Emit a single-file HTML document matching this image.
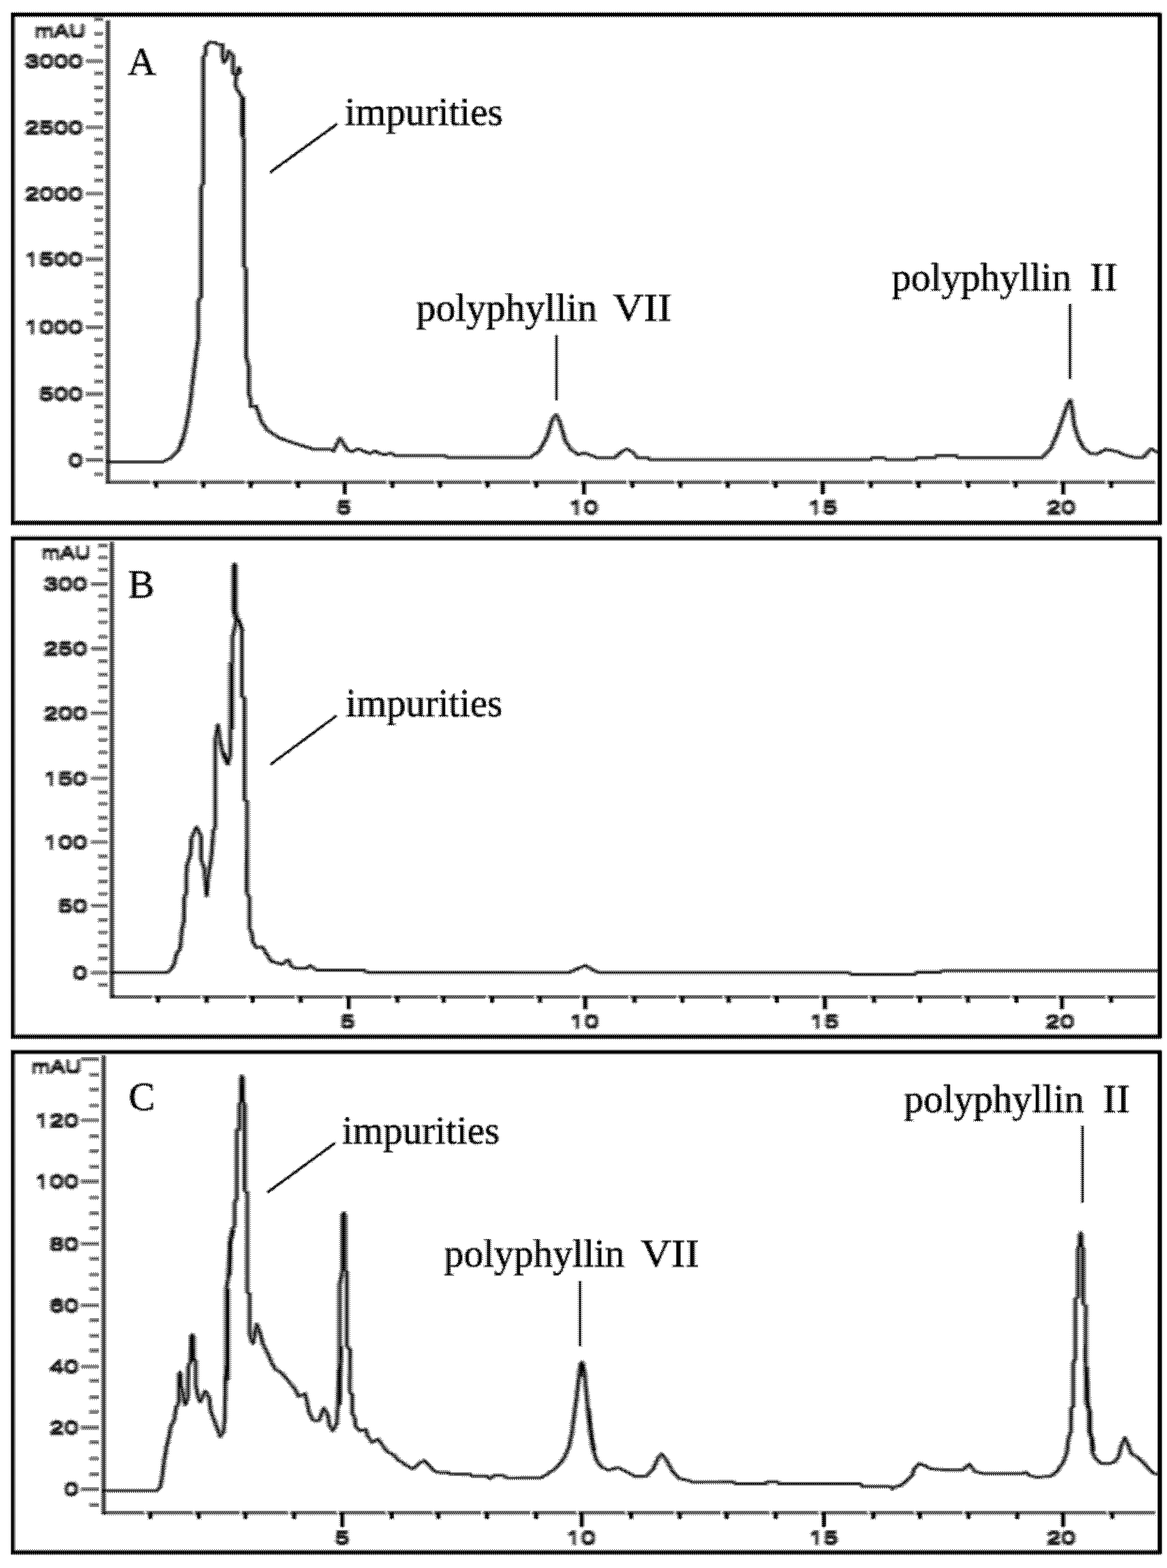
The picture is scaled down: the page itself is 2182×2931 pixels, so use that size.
<!DOCTYPE html>
<html lang="en"><head><meta charset="utf-8"><title>HPLC chromatograms A, B, C</title>
<style>html,body{margin:0;padding:0;background:#fff}svg{display:block}svg{filter:contrast(400)}.sans{font-family:"Liberation Sans",Arial,Helvetica,sans-serif;fill:#000}.serif{font-family:"Liberation Serif","Times New Roman",Times,serif;fill:#000}</style></head><body>
<svg width="2182" height="2931" viewBox="0 0 2182 2931">
<defs><filter id="b" x="0" y="0" width="2182" height="2931" filterUnits="userSpaceOnUse" color-interpolation-filters="sRGB"><feGaussianBlur stdDeviation="1.5 1.3"/></filter><filter id="bt" x="0" y="0" width="2182" height="2931" filterUnits="userSpaceOnUse" color-interpolation-filters="sRGB"><feMorphology operator="dilate" radius="0 2"/><feGaussianBlur stdDeviation="2.0 1.8"/></filter><filter id="bx" x="0" y="0" width="2182" height="2931" filterUnits="userSpaceOnUse" color-interpolation-filters="sRGB"><feGaussianBlur stdDeviation="1.6 1.3"/></filter><filter id="b2" x="0" y="0" width="2182" height="2931" filterUnits="userSpaceOnUse" color-interpolation-filters="sRGB"><feGaussianBlur stdDeviation="0.8"/></filter></defs>
<rect width="2182" height="2931" fill="#fff"/>
<defs><pattern id="bayer" width="4" height="4" patternUnits="userSpaceOnUse" shape-rendering="crispEdges"><rect x="0" y="0" width="1" height="1" fill="rgb(8,8,8)"/><rect x="1" y="0" width="1" height="1" fill="rgb(135,135,135)"/><rect x="2" y="0" width="1" height="1" fill="rgb(40,40,40)"/><rect x="3" y="0" width="1" height="1" fill="rgb(167,167,167)"/><rect x="0" y="1" width="1" height="1" fill="rgb(199,199,199)"/><rect x="1" y="1" width="1" height="1" fill="rgb(72,72,72)"/><rect x="2" y="1" width="1" height="1" fill="rgb(231,231,231)"/><rect x="3" y="1" width="1" height="1" fill="rgb(104,104,104)"/><rect x="0" y="2" width="1" height="1" fill="rgb(56,56,56)"/><rect x="1" y="2" width="1" height="1" fill="rgb(183,183,183)"/><rect x="2" y="2" width="1" height="1" fill="rgb(24,24,24)"/><rect x="3" y="2" width="1" height="1" fill="rgb(151,151,151)"/><rect x="0" y="3" width="1" height="1" fill="rgb(247,247,247)"/><rect x="1" y="3" width="1" height="1" fill="rgb(120,120,120)"/><rect x="2" y="3" width="1" height="1" fill="rgb(215,215,215)"/><rect x="3" y="3" width="1" height="1" fill="rgb(88,88,88)"/></pattern></defs>
<g fill="none" stroke="#000" stroke-width="7.4" filter="url(#b2)">
<rect x="23.9" y="27.5" width="2144.4" height="949.9"/>
<rect x="23.9" y="1006.3" width="2144.4" height="931.4"/>
<rect x="23.9" y="1966.5" width="2144.4" height="935.1"/>
</g>
<g filter="url(#b)"><g transform="scale(1.4 1)">
<g fill="none" stroke="#000" stroke-linecap="butt">
<path d="M144.07 38V904.7" stroke-width="5.6" stroke-opacity="0.74"/>
<path d="M144.07 901.5H1542.86" stroke-width="6.4" stroke-opacity="0.64"/>
</g>
<g fill="none" stroke="#000" stroke-linejoin="round" stroke-linecap="round">
<path d="M144.29 863.3 217.14 863.3 229.29 855 237.86 843 243.14 826 247.5 804 250.93 780 254.29 751 257 717 261.36 668 264.79 632 265 563 268.57 555 268.57 350 271.43 343 271.43 105.4 274.71 101.6 274.71 86.5 277.43 81.8 280.14 78.5 286.86 79.4 290.93 82.7 297 83.2 297 104.5 299.07 116.8 303.79 107.3 305.14 95 311.21 103.5 311.21 135.7 315.29 141.4 319.29 126.2 320.71 135.7 315.29 141.4 314.57 159.4 315.93 165 320.71 176.4 323 181 323 252 324.14 183 324.14 254 325.57 260 325.57 497 328.57 503 328.79 668 332.14 683 332.14 736 334.86 746 334.86 760 341.79 759 346.07 775 348.57 787 357.14 804 372.86 818.5 391.93 828 409.29 835.5 419.57 840 440 840 445.43 843 454.07 818.6 464.29 841.6 469.64 844 478.29 839 493.86 847.7 500.71 843 507.71 848 514.57 850 521.43 846.5 528.43 852 594.14 852 597.64 855 708.21 855 720.29 842.9 730.71 816 737.57 784.7 742.86 775 747.86 789.6 754.93 823.5 761.79 839 772.14 850 780.71 846.5 789.29 851 798.14 856 820.71 856 829.29 845 837.14 839 844.86 845 851.71 856 865.57 856 867.14 859 1162.86 859 1164.71 855.4 1180 855.4 1183.57 859 1222.86 859 1225 855.4 1249.29 855.4 1251.43 851.4 1276.43 851.4 1279.29 855.4 1392.14 855.4 1402.57 840.3 1411.21 813.7 1419.86 779.8 1425.93 755.6 1429.29 748 1432 765 1434.57 794 1440.64 821 1447.57 838 1456.21 847.6 1464.86 848.8 1476.93 840 1492.5 844 1501.14 850 1515 855 1527.14 855 1537.5 839 1546.43 846M324.71 183 324.71 252M241.43 829 243.93 821M1428.21 751 1430.36 751" stroke-width="7.0" stroke-opacity="0.5"/>
<path d="M144.29 863.3 217.14 863.3 229.29 855 237.86 843 243.14 826 247.5 804 250.93 780 254.29 751 257 717 261.36 668 264.79 632 265 563 268.57 555 268.57 350 271.43 343 271.43 105.4 274.71 101.6 274.71 86.5 277.43 81.8 280.14 78.5 286.86 79.4 290.93 82.7 297 83.2 297 104.5 299.07 116.8 303.79 107.3 305.14 95 311.21 103.5 311.21 135.7 315.29 141.4 319.29 126.2 320.71 135.7 315.29 141.4 314.57 159.4 315.93 165 320.71 176.4 323 181 323 252 324.14 183 324.14 254 325.57 260 325.57 497 328.57 503 328.79 668 332.14 683 332.14 736 334.86 746 334.86 760 341.79 759 346.07 775 348.57 787 357.14 804 372.86 818.5 391.93 828 409.29 835.5 419.57 840 440 840 445.43 843 454.07 818.6 464.29 841.6 469.64 844 478.29 839 493.86 847.7 500.71 843 507.71 848 514.57 850 521.43 846.5 528.43 852 594.14 852 597.64 855 708.21 855 720.29 842.9 730.71 816 737.57 784.7 742.86 775 747.86 789.6 754.93 823.5 761.79 839 772.14 850 780.71 846.5 789.29 851 798.14 856 820.71 856 829.29 845 837.14 839 844.86 845 851.71 856 865.57 856 867.14 859 1162.86 859 1164.71 855.4 1180 855.4 1183.57 859 1222.86 859 1225 855.4 1249.29 855.4 1251.43 851.4 1276.43 851.4 1279.29 855.4 1392.14 855.4 1402.57 840.3 1411.21 813.7 1419.86 779.8 1425.93 755.6 1429.29 748 1432 765 1434.57 794 1440.64 821 1447.57 838 1456.21 847.6 1464.86 848.8 1476.93 840 1492.5 844 1501.14 850 1515 855 1527.14 855 1537.5 839 1546.43 846" stroke-width="2.2"/>
<path d="M324.71 183 324.71 252M241.43 829 243.93 821M1428.21 751 1430.36 751" stroke-width="3.19"/>
</g>
<path d="M200.29 901.5H203.29M263.43 901.5H266.43M326.57 901.5H329.57M389.71 901.5H392.71M515.79 901.5H518.79M579.71 901.5H582.71M642.93 901.5H645.93M708.29 901.5H711.29M772.57 901.5H775.57M836.5 901.5H839.5M900.43 901.5H903.43M963.64 901.5H966.64M1027.57 901.5H1030.57M1091.5 901.5H1094.5M1154.86 901.5H1157.86M1218.5 901.5H1221.5M1285.07 901.5H1288.07M1348.43 901.5H1351.43M1412.57 901.5H1415.57M1475.71 901.5H1478.71" fill="none" stroke="#fff" stroke-opacity="0.85" stroke-width="10.4"/>
<path d="M125.71 36.3H137.86M125.71 63.1H137.86M125.71 86.8H137.86M114.5 114.2H137.86M125.71 137.1H137.86M125.71 163.5H137.86M125.71 187.2H137.86M125.71 211.2H137.86M114.5 237.9H137.86M125.71 260.9H137.86M125.71 286.2H137.86M125.71 311.6H137.86M125.71 336.9H137.86M114.5 361.9H137.86M125.71 387.6H137.86M125.71 411H137.86M125.71 436.3H137.86M125.71 461.1H137.86M114.5 484.4H137.86M125.71 512.2H137.86M125.71 535.6H137.86M125.71 562.9H137.86M125.71 586.3H137.86M114.5 611.6H137.86M125.71 634.9H137.86M125.71 663.3H137.86M125.71 685.7H137.86M125.71 713H137.86M114.5 736.4H137.86M125.71 759.7H137.86M125.71 787.1H137.86M125.71 810.4H137.86M125.71 836.8H137.86M114.5 859.7H137.86M125.71 886.5H137.86" fill="none" stroke="#000" stroke-width="7.0" stroke-opacity="0.55"/>
<g fill="none" stroke="#000" stroke-linecap="butt">
<path d="M149.43 1013V1866.2" stroke-width="5.6" stroke-opacity="0.74"/>
<path d="M149.43 1863H1542.86" stroke-width="6.4" stroke-opacity="0.64"/>
</g>
<g fill="none" stroke="#000" stroke-linejoin="round" stroke-linecap="round">
<path d="M149.29 1818 222.43 1818 227.57 1813.7 232.79 1801.6 235.36 1784.6 240.57 1772.5 243.14 1736.2 245.71 1721.7 246.07 1678 248.93 1668.4 248.93 1640 249.5 1618.5 254.64 1596.7 255.5 1567.6 262.43 1545.8 268.5 1562.8 268.5 1606.3 272.86 1623.3 276 1674.5 277.86 1640 282.36 1601.5 284.93 1553 287.5 1545.8 287.5 1386 291 1354.5 293.57 1381 297.86 1410 303.93 1428.4 307.43 1412.6 308.29 1340 308.29 1239 310.86 1238 310.86 1190 313.57 1172 315.36 1160 311.86 1142 311.86 1058 313.21 1054 314.57 1058 314.57 1142 317.5 1159 323 1176 323 1302 326.43 1305 326.43 1495 329.93 1498 329.64 1668.4 333.07 1678 333.07 1733.8 336.57 1746 337.43 1760.4 342.64 1771.3 350.43 1770 355.57 1782.2 362.5 1796.8 376.36 1802.8 385 1794.3 388.43 1804 393.57 1810 409.21 1810 414.29 1805 423.07 1813.7 486.93 1813.7 490.36 1817.9 760 1818 770.43 1811.3 781.71 1804.8 792.86 1813.7 799.86 1818 1133.57 1818 1137.14 1821.7 1221.79 1821.7 1225 1817.4 1255.71 1817.4 1258.57 1814.5 1546.43 1814.5M309.71 1242 309.71 1362M318.57 1158 323.57 1178M299.29 1409 305 1427M274.71 1650 277.29 1650 276 1672M261.43 1549 263.57 1549M313.21 1058 313.21 1142" stroke-width="7.0" stroke-opacity="0.5"/>
<path d="M149.29 1818 222.43 1818 227.57 1813.7 232.79 1801.6 235.36 1784.6 240.57 1772.5 243.14 1736.2 245.71 1721.7 246.07 1678 248.93 1668.4 248.93 1640 249.5 1618.5 254.64 1596.7 255.5 1567.6 262.43 1545.8 268.5 1562.8 268.5 1606.3 272.86 1623.3 276 1674.5 277.86 1640 282.36 1601.5 284.93 1553 287.5 1545.8 287.5 1386 291 1354.5 293.57 1381 297.86 1410 303.93 1428.4 307.43 1412.6 308.29 1340 308.29 1239 310.86 1238 310.86 1190 313.57 1172 315.36 1160 311.86 1142 311.86 1058 313.21 1054 314.57 1058 314.57 1142 317.5 1159 323 1176 323 1302 326.43 1305 326.43 1495 329.93 1498 329.64 1668.4 333.07 1678 333.07 1733.8 336.57 1746 337.43 1760.4 342.64 1771.3 350.43 1770 355.57 1782.2 362.5 1796.8 376.36 1802.8 385 1794.3 388.43 1804 393.57 1810 409.21 1810 414.29 1805 423.07 1813.7 486.93 1813.7 490.36 1817.9 760 1818 770.43 1811.3 781.71 1804.8 792.86 1813.7 799.86 1818 1133.57 1818 1137.14 1821.7 1221.79 1821.7 1225 1817.4 1255.71 1817.4 1258.57 1814.5 1546.43 1814.5" stroke-width="2.2"/>
<path d="M309.71 1242 309.71 1362M318.57 1158 323.57 1178M299.29 1409 305 1427M274.71 1650 277.29 1650 276 1672M261.43 1549 263.57 1549M313.21 1058 313.21 1142" stroke-width="3.19"/>
</g>
<path d="M202.86 1863H205.86M267.71 1863H270.71M329.14 1863H332.14M393.14 1863H396.14M458.21 1863H461.21M522.71 1863H525.71M584.14 1863H587.14M649 1863H652M712.86 1863H715.86M774.29 1863H777.29M839.14 1863H842.14M903.14 1863H906.14M964.71 1863H967.71M1029.29 1863H1032.29M1094.14 1863H1097.14M1159 1863H1162M1220.43 1863H1223.43M1284.43 1863H1287.43M1349.29 1863H1352.29M1410.71 1863H1413.71M1475.57 1863H1478.57" fill="none" stroke="#fff" stroke-opacity="0.85" stroke-width="10.4"/>
<path d="M131.07 1019.8H143.57M131.07 1042.1H143.57M131.07 1065H143.57M121.79 1091.4H143.57M131.07 1114.1H143.57M131.07 1140.1H143.57M131.07 1162.8H143.57M131.07 1190.2H143.57M121.79 1212.5H143.57M131.07 1235.8H143.57M131.07 1261.1H143.57M131.07 1283.5H143.57M131.07 1310.8H143.57M121.79 1333.2H143.57M131.07 1360.5H143.57M131.07 1382.9H143.57M131.07 1406.2H143.57M131.07 1432.5H143.57M121.79 1454.7H143.57M131.07 1481.1H143.57M131.07 1502.4H143.57M131.07 1528.7H143.57M131.07 1551H143.57M121.79 1574H143.57M131.07 1600.7H143.57M131.07 1623.1H143.57M131.07 1647.4H143.57M131.07 1670.7H143.57M121.79 1693H143.57M131.07 1719.4H143.57M131.07 1742.7H143.57M131.07 1768.1H143.57M131.07 1791.4H143.57M121.79 1818.2H143.57M131.07 1841.1H143.57" fill="none" stroke="#000" stroke-width="7.0" stroke-opacity="0.55"/>
<g fill="none" stroke="#000" stroke-linecap="butt">
<path d="M138.36 1973V2831.2" stroke-width="5.6" stroke-opacity="0.74"/>
<path d="M138.36 2828H1542.86" stroke-width="6.4" stroke-opacity="0.64"/>
</g>
<g fill="none" stroke="#000" stroke-linejoin="round" stroke-linecap="round">
<path d="M138.57 2786.5 209.43 2786.5 213.79 2779.7 216.36 2762.8 218.93 2733.7 222.43 2704.6 225.86 2685.3 227.57 2668.3 232.79 2653.8 235.36 2629.6 238.86 2622.3 239.14 2570 240.21 2565.4 241.29 2570 241.57 2590 243.14 2597 247.5 2626 250.93 2612.6 251.43 2554.5 254.57 2545 255.21 2499 256.64 2494.6 258.14 2499 258.57 2540 261.36 2544.8 261.36 2588.4 264.79 2612.6 267.36 2620 274.29 2600.5 279.5 2612.6 281.21 2636.9 286.43 2656.2 291.57 2675.6 294.21 2685.3 298.5 2675.6 300.21 2653.8 301.07 2576.3 302.5 2550 302.5 2407.4 305.07 2385.6 306.79 2322.6 310.29 2298.4 313.71 2288.7 313.71 2246 316.36 2241.5 316.36 2113 319.79 2110.7 319.79 2064 321.71 2060 322 2016 323.21 2011.5 324.43 2016 324.71 2060 326.71 2064.7 326.71 2224.5 330.14 2229.4 330.14 2414.6 333.57 2419.5 333.57 2492 335.36 2504 337.86 2511.5 343.14 2475 347.43 2492 350.93 2511.5 357.86 2530.9 363 2547.8 367.71 2559.4 376.36 2566.6 385 2581.2 393.64 2595.7 398.86 2610.2 407.5 2605.4 410.07 2620 412.64 2639.3 417.86 2653.8 423.07 2656.2 426.43 2653.8 432.43 2632 437.64 2644 440.21 2666 444.57 2674.4 449.71 2661 451.43 2624.7 452.36 2564.2 453.79 2550 453.79 2400 457.29 2376 457.29 2272 459 2267 460.71 2272 460.71 2374 463.36 2378 463.36 2516 467.64 2523.6 467 2600.5 470.5 2607.8 470.5 2641.7 473.93 2651.4 474.79 2666 480 2674.4 488.57 2672 491.21 2685.3 497.29 2696.2 505 2690 511.14 2702.2 518.07 2714.3 526.71 2720.4 531.86 2728.9 542.29 2738.5 550.93 2745.8 559.57 2736 566.43 2730 572.5 2738.5 578.57 2748.2 585.5 2752.6 597.57 2752.6 601.07 2755 627 2755.5 630.43 2759 649.5 2759 654.64 2764 659.86 2758 672 2758 677.14 2762.8 722.86 2762.3 732.43 2754.3 742.79 2743.4 753.14 2726.4 760 2704.6 763.57 2680.4 767 2644 770.43 2607.8 773.93 2564.2 775.43 2550 777 2546 778.57 2550 780.5 2564.2 783.43 2607.8 786 2649 788.57 2680.4 792.14 2709.5 796.43 2728.9 803.29 2742.2 812 2748.2 825.71 2743.4 836.21 2750.7 848.29 2759.9 863.86 2759 872.5 2745.8 878.57 2726.4 883.71 2718 889.79 2728.9 898.43 2750.7 907.14 2764 920.93 2767.6 924.29 2770.5 979.64 2770 982.14 2773.7 1022.86 2773.7 1024.57 2770 1038.43 2770 1041 2773.7 1149.14 2773.7 1151.71 2778.5 1188.93 2778.5 1192 2783.3 1195.71 2778.5 1202.71 2777.3 1209.64 2768.8 1218.29 2758 1220.86 2745.8 1226.93 2736 1235.57 2739.8 1242.86 2745.8 1272.86 2748.2 1286.71 2747 1294.5 2737.3 1302.29 2750.7 1312.64 2754.3 1366.29 2754.3 1369.71 2751.9 1374.93 2758 1385.29 2761.5 1404.29 2759 1412.86 2748.2 1419.86 2733.7 1425 2714.3 1426.79 2690 1430.21 2675.6 1430.57 2634.4 1433.71 2627 1433.71 2547.3 1436.29 2538 1436.29 2429 1439.79 2424.3 1439.79 2334 1441.86 2328 1442.14 2309 1443.21 2304.5 1444.29 2309 1444.57 2328 1446.64 2334 1446.64 2436.4 1450.14 2441.3 1449.64 2540 1451 2622.3 1454.43 2636.9 1454.43 2675.6 1457.86 2690 1458.79 2714.3 1463.07 2726.4 1470 2735 1480.43 2736 1489.07 2732.5 1494.29 2721.6 1497.71 2702.2 1502.5 2687.7 1507.14 2702.2 1510.71 2716.8 1520.14 2725.2 1527.14 2733.7 1534 2745.8 1540.93 2754.3 1546.43 2755.5M304 2410 304 2578M311.43 2300 308 2322 306.43 2384M455.29 2518 453.71 2625M786.07 2634 790 2684 793.57 2710M1451.71 2556 1452.57 2622 1455.71 2640 1455.71 2676 1459.14 2692 1460 2712M459 2271 459 2374M256.64 2498 256.64 2544M323.21 2015 323.21 2059M240.21 2569 240.21 2592M1443.21 2308 1443.21 2329M777 2550 777 2572" stroke-width="7.0" stroke-opacity="0.5"/>
<path d="M138.57 2786.5 209.43 2786.5 213.79 2779.7 216.36 2762.8 218.93 2733.7 222.43 2704.6 225.86 2685.3 227.57 2668.3 232.79 2653.8 235.36 2629.6 238.86 2622.3 239.14 2570 240.21 2565.4 241.29 2570 241.57 2590 243.14 2597 247.5 2626 250.93 2612.6 251.43 2554.5 254.57 2545 255.21 2499 256.64 2494.6 258.14 2499 258.57 2540 261.36 2544.8 261.36 2588.4 264.79 2612.6 267.36 2620 274.29 2600.5 279.5 2612.6 281.21 2636.9 286.43 2656.2 291.57 2675.6 294.21 2685.3 298.5 2675.6 300.21 2653.8 301.07 2576.3 302.5 2550 302.5 2407.4 305.07 2385.6 306.79 2322.6 310.29 2298.4 313.71 2288.7 313.71 2246 316.36 2241.5 316.36 2113 319.79 2110.7 319.79 2064 321.71 2060 322 2016 323.21 2011.5 324.43 2016 324.71 2060 326.71 2064.7 326.71 2224.5 330.14 2229.4 330.14 2414.6 333.57 2419.5 333.57 2492 335.36 2504 337.86 2511.5 343.14 2475 347.43 2492 350.93 2511.5 357.86 2530.9 363 2547.8 367.71 2559.4 376.36 2566.6 385 2581.2 393.64 2595.7 398.86 2610.2 407.5 2605.4 410.07 2620 412.64 2639.3 417.86 2653.8 423.07 2656.2 426.43 2653.8 432.43 2632 437.64 2644 440.21 2666 444.57 2674.4 449.71 2661 451.43 2624.7 452.36 2564.2 453.79 2550 453.79 2400 457.29 2376 457.29 2272 459 2267 460.71 2272 460.71 2374 463.36 2378 463.36 2516 467.64 2523.6 467 2600.5 470.5 2607.8 470.5 2641.7 473.93 2651.4 474.79 2666 480 2674.4 488.57 2672 491.21 2685.3 497.29 2696.2 505 2690 511.14 2702.2 518.07 2714.3 526.71 2720.4 531.86 2728.9 542.29 2738.5 550.93 2745.8 559.57 2736 566.43 2730 572.5 2738.5 578.57 2748.2 585.5 2752.6 597.57 2752.6 601.07 2755 627 2755.5 630.43 2759 649.5 2759 654.64 2764 659.86 2758 672 2758 677.14 2762.8 722.86 2762.3 732.43 2754.3 742.79 2743.4 753.14 2726.4 760 2704.6 763.57 2680.4 767 2644 770.43 2607.8 773.93 2564.2 775.43 2550 777 2546 778.57 2550 780.5 2564.2 783.43 2607.8 786 2649 788.57 2680.4 792.14 2709.5 796.43 2728.9 803.29 2742.2 812 2748.2 825.71 2743.4 836.21 2750.7 848.29 2759.9 863.86 2759 872.5 2745.8 878.57 2726.4 883.71 2718 889.79 2728.9 898.43 2750.7 907.14 2764 920.93 2767.6 924.29 2770.5 979.64 2770 982.14 2773.7 1022.86 2773.7 1024.57 2770 1038.43 2770 1041 2773.7 1149.14 2773.7 1151.71 2778.5 1188.93 2778.5 1192 2783.3 1195.71 2778.5 1202.71 2777.3 1209.64 2768.8 1218.29 2758 1220.86 2745.8 1226.93 2736 1235.57 2739.8 1242.86 2745.8 1272.86 2748.2 1286.71 2747 1294.5 2737.3 1302.29 2750.7 1312.64 2754.3 1366.29 2754.3 1369.71 2751.9 1374.93 2758 1385.29 2761.5 1404.29 2759 1412.86 2748.2 1419.86 2733.7 1425 2714.3 1426.79 2690 1430.21 2675.6 1430.57 2634.4 1433.71 2627 1433.71 2547.3 1436.29 2538 1436.29 2429 1439.79 2424.3 1439.79 2334 1441.86 2328 1442.14 2309 1443.21 2304.5 1444.29 2309 1444.57 2328 1446.64 2334 1446.64 2436.4 1450.14 2441.3 1449.64 2540 1451 2622.3 1454.43 2636.9 1454.43 2675.6 1457.86 2690 1458.79 2714.3 1463.07 2726.4 1470 2735 1480.43 2736 1489.07 2732.5 1494.29 2721.6 1497.71 2702.2 1502.5 2687.7 1507.14 2702.2 1510.71 2716.8 1520.14 2725.2 1527.14 2733.7 1534 2745.8 1540.93 2754.3 1546.43 2755.5" stroke-width="2.2"/>
<path d="M304 2410 304 2578M311.43 2300 308 2322 306.43 2384M455.29 2518 453.71 2625M786.07 2634 790 2684 793.57 2710M1451.71 2556 1452.57 2622 1455.71 2640 1455.71 2676 1459.14 2692 1460 2712M459 2271 459 2374M256.64 2498 256.64 2544M323.21 2015 323.21 2059M240.21 2569 240.21 2592M1443.21 2308 1443.21 2329M777 2550 777 2572" stroke-width="3.19"/>
</g>
<path d="M192.5 2828H195.5M257.36 2828H260.36M319.64 2828H322.64M384.5 2828H387.5M449.71 2828H452.71M514.93 2828H517.93M577.21 2828H580.21M642.07 2828H645.07M707.71 2828H710.71M769.57 2828H772.57M834.71 2828H837.71M899.71 2828H902.71M962.21 2828H965.21M1027.57 2828H1030.57M1092.93 2828H1095.93M1158.14 2828H1161.14M1220.43 2828H1223.43M1285.29 2828H1288.29M1477.29 2828H1480.29" fill="none" stroke="#fff" stroke-opacity="0.85" stroke-width="10.4"/>
<path d="M108.07 1979.9H132.14M119.29 2009.3H132.14M119.29 2036.7H132.14M119.29 2066.5H132.14M108.07 2094.1H132.14M119.29 2123.9H132.14M119.29 2151.3H132.14M119.29 2181.3H132.14M108.07 2208.5H132.14M119.29 2238.5H132.14M119.29 2267.9H132.14M119.29 2295.3H132.14M108.07 2325.3H132.14M119.29 2353.1H132.14M119.29 2382.5H132.14M119.29 2409.8H132.14M108.07 2440.2H132.14M119.29 2467.6H132.14M119.29 2497H132.14M119.29 2524.4H132.14M108.07 2554.4H132.14M119.29 2581.2H132.14M119.29 2611.6H132.14M119.29 2639H132.14M108.07 2668.4H132.14M119.29 2695.8H132.14M119.29 2726.2H132.14M119.29 2755.6H132.14M108.07 2783.6H132.14M119.29 2813.4H132.14" fill="none" stroke="#000" stroke-width="7.0" stroke-opacity="0.55"/>
</g></g>
<g filter="url(#bx)"><g transform="scale(1.4 1)">
<path d="M208.57 900.5V911.6M271.71 900.5V911.6M334.86 900.5V911.6M398 900.5V911.6M460.29 900.5V924M524.07 900.5V911.6M588 900.5V911.6M651.21 900.5V911.6M716.57 900.5V911.6M780 900.5V924M844.79 900.5V911.6M908.71 900.5V911.6M971.93 900.5V911.6M1035.86 900.5V911.6M1098.93 900.5V924M1163.14 900.5V911.6M1226.79 900.5V911.6M1293.36 900.5V911.6M1356.71 900.5V911.6M1420 900.5V924M1484 900.5V911.6" fill="none" stroke="#000" stroke-width="5.3"/>
<path d="M211.14 1862V1874.6M276 1862V1874.6M337.43 1862V1874.6M401.43 1862V1874.6M465.64 1862V1886.5M531 1862V1874.6M592.43 1862V1874.6M657.29 1862V1874.6M721.14 1862V1874.6M781.71 1862V1886.5M847.43 1862V1874.6M911.43 1862V1874.6M973 1862V1874.6M1037.57 1862V1874.6M1101.57 1862V1886.5M1167.29 1862V1874.6M1228.71 1862V1874.6M1292.71 1862V1874.6M1357.57 1862V1874.6M1418.14 1862V1886.5M1483.86 1862V1874.6" fill="none" stroke="#000" stroke-width="5.3"/>
<path d="M200.79 2827V2839.2M265.64 2827V2839.2M327.93 2827V2839.2M392.79 2827V2839.2M457.14 2827V2854.5M523.21 2827V2839.2M585.5 2827V2839.2M650.36 2827V2839.2M716 2827V2839.2M777 2827V2854.5M843 2827V2839.2M908 2827V2839.2M970.5 2827V2839.2M1035.86 2827V2839.2M1100.36 2827V2854.5M1166.43 2827V2839.2M1228.71 2827V2839.2M1293.57 2827V2839.2M1358.43 2827V2839.2M1419.86 2827V2854.5M1485.57 2827V2839.2" fill="none" stroke="#000" stroke-width="5.3"/>
</g></g>
<g filter="url(#bt)" opacity="0.9"><g class="sans" font-size="34.0" stroke="#000" stroke-width="0.6" transform="scale(1.44 1)">
<text x="107.64" y="126.1" text-anchor="end">3000</text>
<text x="107.64" y="249.8" text-anchor="end">2500</text>
<text x="107.64" y="373.8" text-anchor="end">2000</text>
<text x="107.64" y="496.3" text-anchor="end">1500</text>
<text x="107.64" y="623.5" text-anchor="end">1000</text>
<text x="107.64" y="748.3" text-anchor="end">500</text>
<text x="107.64" y="871.6" text-anchor="end">0</text>
<text x="446.53" y="960.4" text-anchor="middle">5</text>
<text x="757.85" y="960.4" text-anchor="middle">10</text>
<text x="1068.4" y="960.4" text-anchor="middle">15</text>
<text x="1377.78" y="960.4" text-anchor="middle">20</text>
<text x="45.14" y="69.4" font-size="31" textLength="65.97" lengthAdjust="spacingAndGlyphs">mAU</text>
<text x="113.4" y="1103.3" text-anchor="end">300</text>
<text x="113.4" y="1224.4" text-anchor="end">250</text>
<text x="113.4" y="1345.1" text-anchor="end">200</text>
<text x="113.4" y="1466.6" text-anchor="end">150</text>
<text x="113.4" y="1585.9" text-anchor="end">100</text>
<text x="113.4" y="1704.9" text-anchor="end">50</text>
<text x="113.4" y="1830.1" text-anchor="end">0</text>
<text x="451.53" y="1921.4" text-anchor="middle">5</text>
<text x="758.68" y="1921.4" text-anchor="middle">10</text>
<text x="1070.49" y="1921.4" text-anchor="middle">15</text>
<text x="1376.25" y="1921.4" text-anchor="middle">20</text>
<text x="54.17" y="1043.6" font-size="31" textLength="63.47" lengthAdjust="spacingAndGlyphs">mAU</text>
<text x="102.08" y="2106" text-anchor="end">120</text>
<text x="102.08" y="2220.4" text-anchor="end">100</text>
<text x="102.08" y="2337.2" text-anchor="end">80</text>
<text x="102.08" y="2452.1" text-anchor="end">60</text>
<text x="102.08" y="2566.3" text-anchor="end">40</text>
<text x="102.08" y="2680.3" text-anchor="end">20</text>
<text x="102.08" y="2795.5" text-anchor="end">0</text>
<text x="444.44" y="2885.9" text-anchor="middle">5</text>
<text x="754.58" y="2885.9" text-anchor="middle">10</text>
<text x="1069.44" y="2885.9" text-anchor="middle">15</text>
<text x="1377.78" y="2885.9" text-anchor="middle">20</text>
<text x="40.83" y="2005" font-size="31" textLength="64.72" lengthAdjust="spacingAndGlyphs">mAU</text>
<path d="M33.02 493.07h7.31v4.25h-7.31zM43.77 493.07h6.80v4.25h-6.80zM33.02 620.27h7.31v4.25h-7.31zM43.77 620.27h6.80v4.25h-6.80zM739.96 957.17h7.31v4.25h-7.31zM750.70 957.17h6.80v4.25h-6.80zM1050.51 957.17h7.31v4.25h-7.31zM1061.26 957.17h6.80v4.25h-6.80zM57.70 1463.37h7.31v4.25h-7.31zM68.44 1463.37h6.80v4.25h-6.80zM57.70 1582.67h7.31v4.25h-7.31zM68.44 1582.67h6.80v4.25h-6.80zM740.79 1918.17h7.31v4.25h-7.31zM751.54 1918.17h6.80v4.25h-6.80zM1052.60 1918.17h7.31v4.25h-7.31zM1063.34 1918.17h6.80v4.25h-6.80zM46.38 2102.77h7.31v4.25h-7.31zM57.12 2102.77h6.80v4.25h-6.80zM46.38 2217.17h7.31v4.25h-7.31zM57.12 2217.17h6.80v4.25h-6.80zM736.69 2882.67h7.31v4.25h-7.31zM747.44 2882.67h6.80v4.25h-6.80zM1051.56 2882.67h7.31v4.25h-7.31zM1062.30 2882.67h6.80v4.25h-6.80z" fill="#fff" stroke="none"/>
</g></g>
<g filter="url(#b2)">
<g class="serif" font-size="74" stroke="#000" stroke-width="0.7">
<text x="238.5" y="139.6">A</text>
<text x="644.8" y="233.5" textLength="295.4" lengthAdjust="spacingAndGlyphs">impurities</text>
<text y="599.9"><tspan x="778.3" textLength="338" lengthAdjust="spacingAndGlyphs">polyphyllin</tspan> <tspan x="1146.2" textLength="110" lengthAdjust="spacingAndGlyphs">VII</tspan></text>
<text y="542.6"><tspan x="1667" textLength="336.2" lengthAdjust="spacingAndGlyphs">polyphyllin</tspan> <tspan x="2038.2" textLength="51.6" lengthAdjust="spacingAndGlyphs">II</tspan></text>
<text x="239.4" y="1116.6">B</text>
<text x="646.4" y="1339.2" textLength="293" lengthAdjust="spacingAndGlyphs">impurities</text>
<text x="240.4" y="2075">C</text>
<text x="639.8" y="2138.2" textLength="294.6" lengthAdjust="spacingAndGlyphs">impurities</text>
<text y="2368.3"><tspan x="830.6" textLength="337.3" lengthAdjust="spacingAndGlyphs">polyphyllin</tspan> <tspan x="1197.9" textLength="109.8" lengthAdjust="spacingAndGlyphs">VII</tspan></text>
<text y="2079.2"><tspan x="1690.3" textLength="336.2" lengthAdjust="spacingAndGlyphs">polyphyllin</tspan> <tspan x="2061.5" textLength="51.5" lengthAdjust="spacingAndGlyphs">II</tspan></text>
</g>
<g stroke="#000" stroke-width="4.6" fill="none">
<line x1="630.5" y1="231.6" x2="504.6" y2="322.4"/>
<line x1="1040.6" y1="626.5" x2="1040.6" y2="748"/>
<line x1="2000.8" y1="568.2" x2="2000.8" y2="708.4"/>
<line x1="629.8" y1="1337.5" x2="505.9" y2="1429"/>
<line x1="626.5" y1="2136.5" x2="500" y2="2229"/>
<line x1="1084.7" y1="2394.9" x2="1084.7" y2="2516.4"/>
<line x1="2023.9" y1="2103.9" x2="2023.9" y2="2248"/>
</g>
</g>
<rect width="2182" height="2931" fill="url(#bayer)" opacity="0.5" shape-rendering="crispEdges"/>
</svg></body></html>
